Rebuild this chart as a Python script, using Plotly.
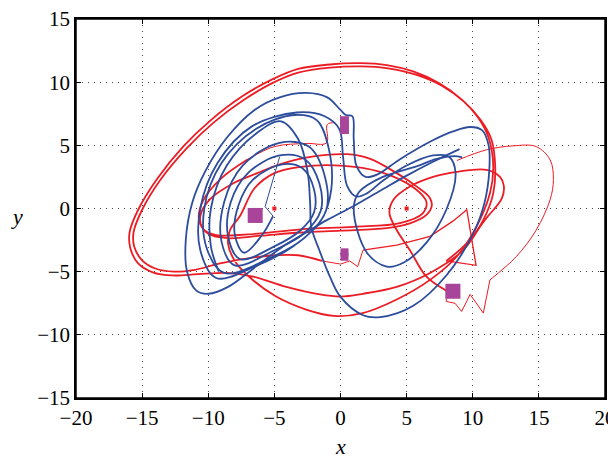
import plotly.graph_objects as go

# ---------------- data ----------------
# red trajectory, split into pieces
red_start = [(-0.4, 6.8), (-1.0, 6.65), (-1.05, 5.2), (-2.6, 5.15), (-5.0, 4.9), (-7.0, 3.9)]
red_main = [(-7.0, 3.9), (-9.0, 2.4), (-10.4, 0.6), (-10.7, -0.9), (-10.0, -2.0), (-8.5, -2.35),
            (-6.0, -2.15), (-3.0, -1.9), (0.0, -1.75), (3.5, -1.55), (5.3, -1.15), (6.5, -0.5),
            (6.9, 0.2), (6.75, 0.85), (5.75, 1.75), (4.25, 2.8), (2.2, 3.95), (0.5, 4.3),
            (-2.5, 4.05), (-4.6, 3.5), (-6.3, 2.8), (-8.1, 2.0), (-9.9, 0.7), (-10.6, -0.6),
            (-10.4, -1.6), (-9.4, -2.1), (-7.0, -2.05), (-3.0, -1.65), (1.0, -1.45), (4.5, -1.15),
            (6.2, -0.4), (6.5, 0.5), (5.6, 1.6), (3.0, 2.9), (0.0, 3.4), (-3.0, 3.3), (-5.0, 2.8),
            (-6.5, 1.6), (-7.6, -0.6), (-8.35, -1.7), (-8.5, -2.8), (-7.9, -4.3), (-6.7, -5.6),
            (-4.9, -6.95), (-2.6, -8.0), (-0.5, -8.5), (1.6, -8.3), (4.25, -7.2), (6.77, -5.65),
            (8.8, -3.8), (10.3, -1.4), (11.3, 1.2), (11.55, 3.3), (11.2, 5.6), (10.4, 7.2),
            (9.2, 8.6), (7.5, 9.9), (5.5, 10.85), (3.5, 11.35), (1.5, 11.5), (-0.8, 11.4),
            (-3.2, 11.05), (-5.2, 10.2), (-7.4, 8.9), (-9.8, 7.0), (-11.9, 4.9), (-13.9, 2.3),
            (-15.3, -0.1), (-15.95, -1.9), (-15.9, -3.1), (-15.3, -4.35), (-14.2, -5.05),
            (-12.7, -5.3), (-10.8, -5.2), (-8.6, -5.1), (-6.6, -5.4), (-4.1, -6.2), (-1.55, -6.8),
            (0.0, -6.97), (1.7, -6.75), (4.25, -6.2), (6.77, -5.1), (9.3, -3.27), (10.8, -0.9),
            (11.55, 1.2), (11.7, 3.3), (11.4, 5.5), (10.6, 7.0), (9.4, 8.4), (7.7, 9.7),
            (5.7, 10.6), (3.6, 11.1), (1.6, 11.25), (-0.8, 11.15), (-3.2, 10.75), (-5.2, 9.9),
            (-7.3, 8.6), (-9.6, 6.8), (-11.6, 4.8), (-13.6, 2.3), (-15.0, -0.1), (-15.65, -1.9),
            (-15.6, -3.0), (-15.0, -4.1), (-14.0, -4.75), (-12.6, -5.0), (-11.0, -4.85),
            (-9.1, -4.35), (-6.4, -3.85), (-4.9, -3.7), (-3.2, -3.7), (-1.4, -4.15)]
red_jag = [(-1.4, -4.15), (0.0, -4.4), (0.7, -4.15), (1.3, -4.6), (1.7, -3.3)]
red_fast = [(1.7, -3.3), (4.25, -2.9), (6.77, -2.2), (8.5, -1.0), (9.55, -0.1), (10.25, -4.5), (8.0, -4.15)]
red_right = [(8.0, -4.15), (9.5, -2.8), (11.0, -0.8), (12.2, 0.8), (12.35, 1.8), (12.06, 2.5),
             (11.05, 3.06), (8.8, 2.9), (7.0, 2.5), (5.25, 1.74), (4.0, 0.7), (3.7, -0.37),
             (4.25, -1.7), (5.25, -3.3), (6.5, -5.4), (8.0, -6.5)]
red_tail_jag = [(8.0, -6.5), (8.0, -7.36), (8.66, -7.5), (9.16, -8.15), (9.8, -6.8), (10.8, -8.28), (11.3, -5.65)]
red_tail = [(11.3, -5.65), (13.3, -3.8), (14.8, -1.7), (15.85, 0.7), (16.1, 2.3), (15.85, 3.85),
            (14.8, 4.9), (13.06, 4.96), (11.05, 4.65), (8.8, 3.8)]

# blue trajectory
blue_spike = [(-4.6, 4.1), (-5.7, 0.15), (-5.1, -0.6)]
blue_lobe = [(-5.1, -0.6), (-6.0, -2.2), (-7.3, -3.5),
             (-8.0, -2.0), (-7.7, 0.3), (-6.6, 2.3), (-4.4, 3.5), (-2.9, 3.2), (-2.0, 1.5), (-2.0, -0.3),
             (-3.0, -1.7), (-5.0, -3.0), (-7.6, -4.0),
             (-8.5, -2.2), (-8.3, 0.5), (-7.0, 2.8), (-4.6, 4.2), (-2.7, 3.9), (-1.6, 2.0), (-1.5, -0.2),
             (-2.8, -2.0), (-5.0, -3.3), (-8.0, -4.5),
             (-9.0, -2.6), (-8.8, 0.5), (-7.4, 3.4), (-4.6, 5.2), (-2.4, 4.9), (-1.2, 2.6), (-1.1, -0.2),
             (-2.7, -2.3), (-5.3, -3.9), (-8.8, -5.1),
             (-10.1, -3.2), (-10.3, 0.0), (-9.0, 3.6), (-6.4, 6.3), (-3.5, 7.4), (-1.8, 7.0), (-0.9, 4.8),
             (-0.7, 1.5), (-1.5, -1.0), (-3.6, -3.0), (-6.5, -4.6), (-9.4, -5.5),
             (-10.6, -3.3), (-10.6, 0.0), (-9.3, 3.6), (-6.7, 6.5), (-3.3, 7.6), (-1.2, 7.3), (-0.1, 6.3),
             (0.2, 4.0), (0.5, 1.8), (1.2, 0.95), (2.0, 1.2), (3.2, 2.2), (5.0, 3.4), (7.0, 4.2), (8.2, 4.1),
             (8.7, 2.8), (8.0, -0.1), (6.5, -2.7), (4.75, -4.3), (3.5, -4.6), (2.0, -3.5), (1.0, -0.1),
             (1.4, 1.3), (3.2, 2.5), (5.8, 3.35), (7.2, 3.9), (8.6, 4.15), (9.2, 4.05)]
blue_outer = [(9.0, 4.7), (7.0, 3.7), (5.0, 2.6), (3.0, 1.4), (1.0, 0.2), (-1.0, -0.9), (-2.6, -1.9),
              (-4.35, -3.0), (-6.4, -4.6), (-8.5, -6.2), (-10.0, -6.75), (-10.9, -6.5), (-11.6, -5.0),
              (-11.7, -2.5), (-11.2, 0.5), (-10.2, 3.0), (-8.6, 5.6), (-6.5, 7.8), (-4.6, 8.8),
              (-2.6, 9.15), (-1.0, 8.8), (0.0, 7.8), (0.4, 7.4), (0.9, 7.3), (1.0, 5.5), (1.2, 3.4),
              (1.9, 2.5), (2.8, 2.7), (4.5, 3.9), (6.8, 5.3), (8.5, 6.1), (9.8, 6.45), (10.7, 6.2),
              (11.2, 5.0), (11.25, 3.0), (10.9, 0.5), (10.05, -1.95), (8.0, -5.3), (5.5, -7.7),
              (3.0, -8.6), (1.7, -8.45), (0.0, -7.0), (-0.8, -5.4), (-1.6, -3.3), (-2.2, -1.5),
              (-2.3, 0.5), (-2.5, 3.0), (-3.2, 5.5), (-4.5, 6.9), (-6.3, 6.0), (-8.6, 3.4),
              (-9.8, 0.0), (-9.8, -3.0), (-9.2, -5.0)]

# marked points
mark_x = [-6.45, 0.3, 0.3, 0.3, 0.3, 8.5]
mark_y = [-0.55, 6.25, 6.95, -3.47, -3.82, -6.55]
equil_x = [-5, 5]
equil_y = [0, 0]

x_ticks = [-20, -15, -10, -5, 0, 5, 10, 15, 20]
y_ticks = [-15, -10, -5, 0, 5, 10, 15]

# ---------------- figure ----------------
RED = "#ec1c24"
BLUE = "#2c4c9c"
MAG = "#a8449a"

fig = go.Figure()


def add(seg, color, width, shape="spline"):
    fig.add_trace(go.Scatter(
        x=[p[0] for p in seg], y=[p[1] for p in seg], mode="lines",
        line=dict(color=color, width=width, shape=shape, smoothing=1.0),
        hoverinfo="skip", showlegend=False))


add(red_start, RED, 1.0)
add(red_main, RED, 1.8)
add(red_jag, RED, 1.0, "linear")
add(red_fast, RED, 1.3, "linear")
add(red_right, RED, 1.8)
add(red_tail_jag, RED, 1.0, "linear")
add(red_tail, RED, 1.0)

add(blue_spike, BLUE, 1.0, "linear")
add(blue_lobe, BLUE, 1.8)
add(blue_outer, BLUE, 1.8)

fig.add_trace(go.Scatter(x=equil_x, y=equil_y, mode="markers",
                         marker=dict(symbol="square", size=4, color=RED),
                         hoverinfo="skip", showlegend=False))
fig.add_trace(go.Scatter(x=mark_x, y=mark_y, mode="markers",
                         marker=dict(symbol="square", size=[15, 9, 9, 8, 8, 15], color=MAG,
                                     opacity=1, line=dict(width=0)),
                         hoverinfo="skip", showlegend=False))

FONT = "Liberation Serif"
axis_common = dict(
    showgrid=True, gridcolor="#444444", griddash="1px,5px", gridwidth=1,
    zeroline=False, showline=True, linecolor="black", linewidth=1.5, mirror="allticks",
    ticks="inside", ticklen=5, tickcolor="black", automargin=False,
    ticklabeloverflow="allow",
    tickfont=dict(family=FONT, size=21, color="black"),
)
fig.update_xaxes(range=[-20, 20], tickvals=x_ticks, **axis_common)
fig.update_yaxes(range=[-15, 15], tickvals=y_ticks, **axis_common)

# the page adds an 8px body margin, so the figure is drawn 8px smaller than the window
fig.update_layout(
    width=606, height=450,
    margin=dict(l=68, r=9, t=11, b=60, autoexpand=False),
    plot_bgcolor="white", paper_bgcolor="white",
    font=dict(family=FONT, color="black"),
    shapes=[dict(type="rect", xref="paper", yref="paper", x0=0, x1=1, y0=0, y1=1,
                 line=dict(color="black", width=1.5), fillcolor="rgba(0,0,0,0)", layer="above")],
    annotations=[
        dict(text="<i>x</i>", xref="paper", yref="paper", x=0.5, y=-0.128,
             showarrow=False, font=dict(family=FONT, size=22), yanchor="middle"),
        dict(text="<i>y</i>", xref="paper", yref="paper", x=-0.112, y=0.48,
             showarrow=False, font=dict(family=FONT, size=22), xanchor="center",
             yanchor="middle"),
    ],
)

fig.write_html("out.html")
